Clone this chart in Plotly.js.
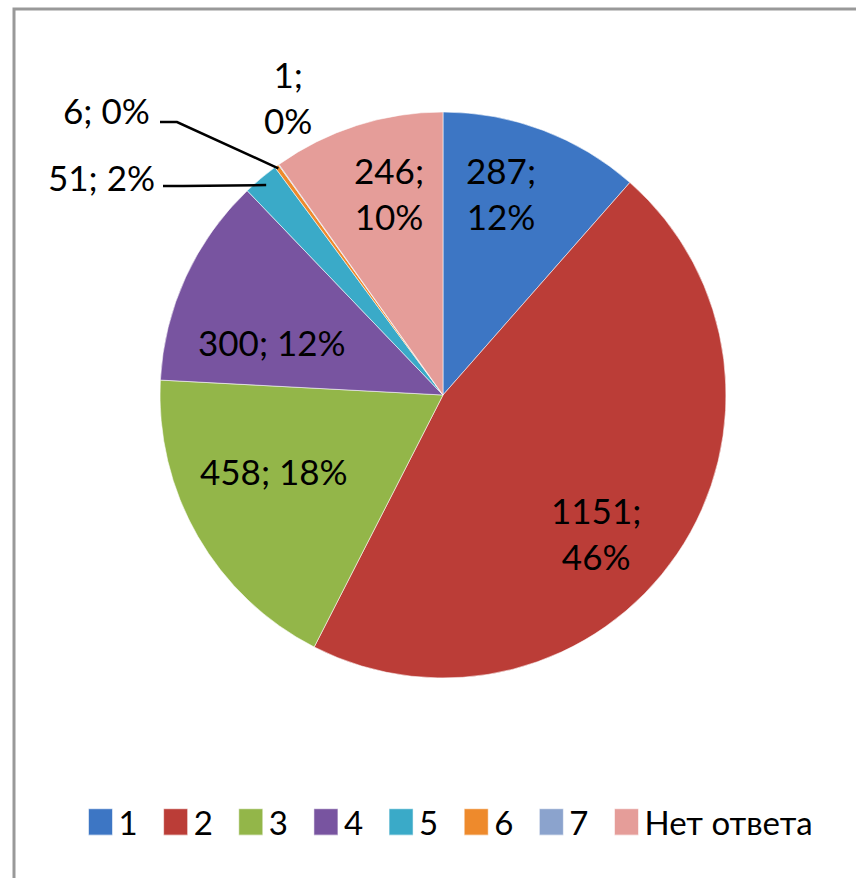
<!DOCTYPE html>
<html>
<head>
<meta charset="utf-8">
<script src="https://cdn.plot.ly/plotly-3.0.1.min.js"></script>
<style>
html,body{margin:0;padding:0;background:#fff;}
#chart{width:856px;height:878px;}
</style>
</head>
<body>
<div id="chart"></div>
<script>
const categories = ['1', '2', '3', '4', '5', '6', '7', 'Нет ответа'];
const values = [287, 1151, 458, 300, 51, 6, 1, 246];
const pctLabels = ['12%', '46%', '18%', '12%', '2%', '0%', '0%', '10%'];
const colors = ['#3d76c4', '#bb3d37', '#93b649', '#7854a0', '#3aaac8', '#ee8a2c', '#8ba3cd', '#e59d99'];

// label layout (pixel centres / anchors) and line breaks
const labelPos = [[501, 193], [596, 533], [274, 471], [272, 342], [157, 177], [152, 110], [288, 97], [389, 193]];
const labelBreak = [true, true, false, false, false, false, true, true];
const labelAnchor = ['center', 'center', 'center', 'center', 'right', 'right', 'center', 'center'];

const W = 856, H = 878;
const cx = 443, cy = 395, R = 283;
const FONT = 'Lato, "Open Sans", sans-serif';

const px = x => x / W;
const py = y => 1 - y / H;

// slice mid-angles (degrees clockwise from 12 o'clock), from the data
const total = values.reduce((a, b) => a + b, 0);
const mids = [];
let acc = 0;
values.forEach(v => { mids.push((acc + v / 2) / total * 360); acc += v; });
const rim = (i, f) => {
  const a = mids[i] * Math.PI / 180;
  return [cx + R * f * Math.sin(a), cy - R * f * Math.cos(a)];
};

const trace = {
  type: 'pie',
  labels: categories,
  values: values,
  textinfo: 'none',
  sort: false,
  direction: 'clockwise',
  rotation: 0,
  marker: {colors: colors, line: {color: 'rgba(255,255,255,0.55)', width: 1}},
  domain: {x: [px(cx - R), px(cx + R)], y: [py(cy + R), py(cy - R)]},
  hoverinfo: 'none'
};

const p6 = rim(5, 0.99), p5 = rim(4, 0.97);
const path = pts => pts.map((p, k) => (k ? 'L' : 'M') + px(p[0]) + ',' + py(p[1])).join(' ');

const annotations = categories.map((c, i) => ({
  xref: 'paper', yref: 'paper',
  x: px(labelPos[i][0]), y: py(labelPos[i][1]),
  xanchor: labelAnchor[i], yanchor: 'middle',
  text: values[i] + ';' + (labelBreak[i] ? '<br>' : ' ') + pctLabels[i],
  showarrow: false,
  font: {family: FONT, size: 35, color: '#000'}
}));

const layout = {
  width: W, height: H,
  margin: {l: 0, r: 0, t: 0, b: 0},
  paper_bgcolor: '#fff',
  showlegend: true,
  legend: {
    orientation: 'h', x: px(443), xanchor: 'center', y: py(822), yanchor: 'middle',
    font: {family: FONT, size: 33, color: '#000'}, itemwidth: 41, tracegroupgap: 0
  },
  shapes: [
    {type: 'rect', xref: 'paper', yref: 'paper', x0: px(14), x1: 1.1, y0: -0.1, y1: py(9),
     line: {color: '#999', width: 3}, fillcolor: 'rgba(0,0,0,0)', layer: 'above'},
    {type: 'path', xref: 'paper', yref: 'paper', path: path([p6, [177, 122], [160, 122]]),
     line: {color: '#000', width: 2.5}},
    {type: 'path', xref: 'paper', yref: 'paper', path: path([p5, [183, 186], [163, 186]]),
     line: {color: '#000', width: 2.5}}
  ],
  annotations: annotations,
  hovermode: false
};

Plotly.newPlot('chart', [trace], layout, {displayModeBar: false, staticPlot: true}).then(gd => {
  // enlarge legend swatches to the reference's size
  gd.querySelectorAll('path.legendpie').forEach(p => {
    p.setAttribute('transform', 'translate(33,0) scale(2,2.2)');
    p.style.strokeWidth = '0.5px';
  });
});
</script>
</body>
</html>
